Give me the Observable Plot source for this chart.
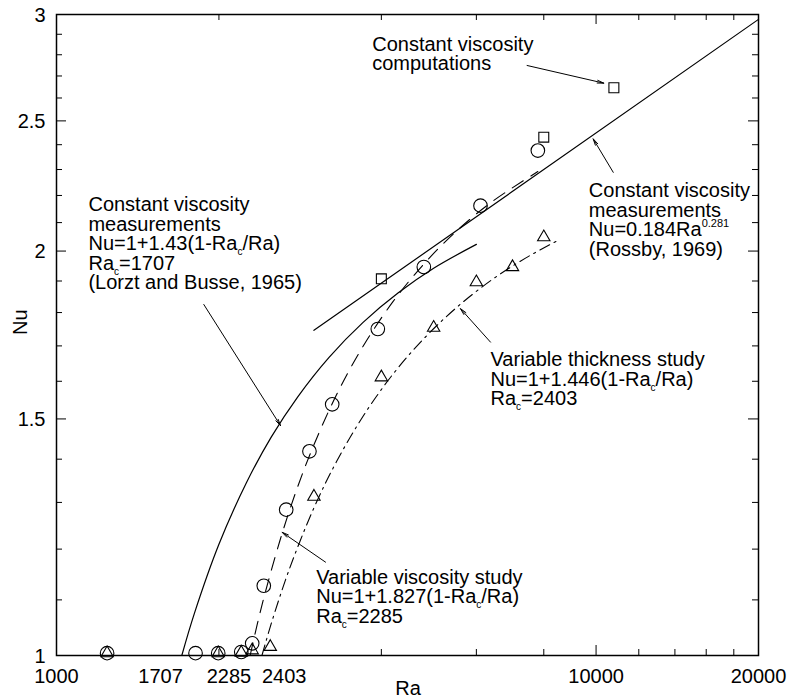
<!DOCTYPE html>
<html>
<head>
<meta charset="utf-8">
<script src="https://cdn.jsdelivr.net/npm/d3@7"></script>
<script src="https://cdn.jsdelivr.net/npm/@observablehq/plot@0.6"></script>
<style>
  html, body { margin: 0; padding: 0; background: #fff; }
  #chart svg { display: block; }
</style>
</head>
<body>
<div id="chart"></div>
<script>
// ---- Data ----
// Variable viscosity study (circles)
const circRa = [1241, 1810, 1994, 2200, 2305, 2422, 2665, 2943, 3243, 3940, 4795, 6107, 7800];
const circNu = [1.004, 1.004, 1.004, 1.006, 1.021, 1.127, 1.284, 1.419, 1.538, 1.750, 1.946, 2.162, 2.376];
// Variable thickness study (triangles)
const triRa = [1241, 1994, 2200, 2305, 2490, 3000, 4000, 5000, 6000, 7000, 8000];
const triNu = [1.004, 1.004, 1.005, 1.009, 1.015, 1.313, 1.611, 1.754, 1.896, 1.946, 2.048];
// Constant viscosity computations (squares)
const sqRa = [4000, 8000, 10790];
const sqNu = [1.907, 2.431, 2.646];

// Lorzt and Busse curve (solid)
const lbRa = [1707, 1800, 2000, 2250, 2500, 2800, 3200, 3700, 4300, 5000, 6000];
const lbNu = [1.0, 1.074, 1.210, 1.345, 1.454, 1.558, 1.667, 1.770, 1.862, 1.942, 2.023];
// Variable viscosity fit (dashed)
const vvRa = [2285, 2400, 2600, 2800, 3000, 3300, 3700, 4200, 4800, 5500, 6400, 7800];
const vvNu = [1.0, 1.088, 1.221, 1.336, 1.435, 1.562, 1.699, 1.833, 1.957, 2.068, 2.175, 2.292];
// Variable thickness fit (dash-dot)
const vtRa = [2403, 2500, 2700, 3000, 3300, 3700, 4200, 4800, 5500, 6400, 7400, 8500];
const vtNu = [1.0, 1.056, 1.159, 1.288, 1.393, 1.507, 1.619, 1.722, 1.814, 1.903, 1.976, 2.037];
// Rossby power law (solid straight line)
const rbRa = [3000, 20000];
const rbNu = [1.746, 2.975];

// Annotations
const noteText = [
  "Constant viscosity\ncomputations",
  "Constant viscosity\nmeasurements\nNu=0.184Ra{^0.281}\n(Rossby, 1969)",
  "Constant viscosity\nmeasurements\nNu=1+1.43(1-Ra{_c}/Ra)\nRa{_c}=1707\n(Lorzt and Busse, 1965)",
  "Variable thickness study\nNu=1+1.446(1-Ra{_c}/Ra)\nRa{_c}=2403",
  "Variable viscosity study\nNu=1+1.827(1-Ra{_c}/Ra)\nRa{_c}=2285"
];
const noteRa = [3847, 9695, 1146, 6373, 3029];
const noteNu = [2.887, 2.247, 2.194, 1.682, 1.1586];

const arrowRa1 = [7450, 10760, 1875, 6373, 3152];
const arrowNu1 = [2.749, 2.289, 1.825, 1.711, 1.1735];
const arrowRa2 = [10335, 9878, 2601, 5607, 2620];
const arrowNu2 = [2.667, 2.424, 1.483, 1.812, 1.235];

// Axis ticks and labels
const xTickLabels = [1000, 1707, 2285, 2403, 10000, 20000];
const xMinorTicks = [2000, 4000, 6000, 8000, 12000, 14000, 16000, 18000];
const xMajorTicks = [10000];
const yTickLabels = [1, 1.5, 2, 2.5, 3];
const yMinorTicks = [1.1, 1.2, 1.3, 1.4, 1.6, 1.7, 1.8, 1.9, 2.1, 2.2, 2.3, 2.4, 2.6, 2.7, 2.8, 2.9];
const yMajorTicks = [1.5, 2, 2.5];
const xTitle = "Ra";
const yTitle = "Nu";

// ---- Build tables ----
const zip = (xs, ys) => xs.map((x, i) => ({x, y: ys[i]}));
const circles = zip(circRa, circNu);
const triangles = zip(triRa, triNu);
const squares = zip(sqRa, sqNu);
const notes = noteText.map((t, i) => ({t, x: noteRa[i], y: noteNu[i]}));
const arrows = arrowRa1.map((x1, i) => ({x1, y1: arrowNu1[i], x2: arrowRa2[i], y2: arrowNu2[i]}));

const W = 789, H = 698;
const mL = 56, mR = 31, mT = 14, mB = 43;
const pw = W - mL - mR, ph = H - mT - mB;
const minor = 6, major = 10;
const FS = 20;

const chart = Plot.plot({
  width: W, height: H,
  marginLeft: mL, marginRight: mR, marginTop: mT, marginBottom: mB,
  style: {fontFamily: "'Liberation Sans', Arial, sans-serif", background: "#fff", color: "#000"},
  x: {type: "log", domain: [1000, 20000], axis: null},
  y: {type: "log", domain: [1, 3], axis: null},
  marks: [
    // ticks (inward, all four sides)
    Plot.ruleX(xMinorTicks, {x: d => d, insetTop: ph - minor, stroke: "#000"}),
    Plot.ruleX(xMinorTicks, {x: d => d, insetBottom: ph - minor, stroke: "#000"}),
    Plot.ruleX(xMajorTicks, {x: d => d, insetTop: ph - major, stroke: "#000"}),
    Plot.ruleX(xMajorTicks, {x: d => d, insetBottom: ph - major, stroke: "#000"}),
    Plot.ruleY(yMinorTicks, {y: d => d, insetRight: pw - minor, stroke: "#000"}),
    Plot.ruleY(yMinorTicks, {y: d => d, insetLeft: pw - minor, stroke: "#000"}),
    Plot.ruleY(yMajorTicks, {y: d => d, insetRight: pw - major, stroke: "#000"}),
    Plot.ruleY(yMajorTicks, {y: d => d, insetLeft: pw - major, stroke: "#000"}),
    Plot.frame({stroke: "#000", strokeWidth: 1.5}),

    // tick labels
    Plot.text(xTickLabels.filter(v => v === 1000 || v >= 10000), {x: d => d, text: d => String(d), frameAnchor: "bottom", lineAnchor: "bottom", dy: 27, fontSize: FS, textAnchor: "middle"}),
    Plot.text(xTickLabels.filter(v => v === 1707 || v === 2285), {x: d => d, text: d => String(d), frameAnchor: "bottom", lineAnchor: "bottom", dy: 27, fontSize: FS, textAnchor: "end", dx: 1}),
    Plot.text(xTickLabels.filter(v => v === 2403), {x: d => d, text: d => String(d), frameAnchor: "bottom", lineAnchor: "bottom", dy: 27, fontSize: FS, textAnchor: "start"}),
    Plot.text(yTickLabels, {y: d => d, text: d => String(d), frameAnchor: "left", textAnchor: "end", lineAnchor: "middle", dx: -11, dy: 1, fontSize: FS}),
    Plot.text([xTitle], {text: d => d, frameAnchor: "bottom", lineAnchor: "bottom", dy: 39.5, dx: 0.5, fontSize: FS}),
    Plot.text([yTitle], {text: d => d, frameAnchor: "left", rotate: -90, lineAnchor: "bottom", dx: -29.3, fontSize: FS}),

    // curves
    Plot.line(zip(lbRa, lbNu), {x: "x", y: "y", curve: "catmull-rom", stroke: "#000", strokeWidth: 1.2}),
    Plot.line(zip(vvRa, vvNu), {x: "x", y: "y", curve: "catmull-rom", stroke: "#000", strokeWidth: 1.1, strokeDasharray: "13,9"}),
    Plot.line(zip(vtRa, vtNu), {x: "x", y: "y", curve: "catmull-rom", stroke: "#000", strokeWidth: 1.1, strokeDasharray: "11,5,2,5"}),
    Plot.line(zip(rbRa, rbNu), {x: "x", y: "y", stroke: "#000", strokeWidth: 1.2}),

    // markers
    Plot.dot(circles, {x: "x", y: "y", r: 6.8, symbol: "circle", stroke: "#000", fill: "none", strokeWidth: 1.1}),
    Plot.dot(triangles, {x: "x", y: "y", r: 4.6, symbol: "triangle", stroke: "#000", fill: "none", strokeWidth: 1.1}),
    Plot.dot(squares, {x: "x", y: "y", r: 5.6, symbol: "square", stroke: "#000", fill: "none", strokeWidth: 1.1}),

    // annotations
    Plot.arrow(arrows, {x1: "x1", y1: "y1", x2: "x2", y2: "y2", stroke: "#000", strokeWidth: 1, headLength: 10, headAngle: 24}),
    Plot.text(notes, {x: "x", y: "y", text: "t", textAnchor: "start", lineAnchor: "top", lineHeight: 0.98, fontSize: FS})
  ]
});

document.getElementById("chart").appendChild(chart);

// Render {_sub} and {^sup} markup as real sub/superscript tspans (baseline-shift keeps line positions intact)
const NS = "http://www.w3.org/2000/svg";
function richify(el) {
  const s = el.textContent;
  if (!/\{[_^]/.test(s)) return;
  while (el.firstChild) el.removeChild(el.firstChild);
  const re = /\{([_^])([^}]*)\}/g;
  let last = 0, m;
  const add = (txt, attrs) => {
    const t = document.createElementNS(NS, "tspan");
    for (const k in attrs) t.setAttribute(k, attrs[k]);
    t.textContent = txt;
    el.appendChild(t);
  };
  while ((m = re.exec(s))) {
    if (m.index > last) add(s.slice(last, m.index), {});
    const sub = m[1] === "_";
    add(m[2], {"baseline-shift": sub ? "-5" : "9", "font-size": sub ? 10 : 11});
    last = re.lastIndex;
  }
  if (last < s.length) add(s.slice(last), {});
}
chart.querySelectorAll("text").forEach(t => {
  const spans = t.querySelectorAll(":scope > tspan");
  if (spans.length) spans.forEach(richify);
  else richify(t);
});
</script>
</body>
</html>
